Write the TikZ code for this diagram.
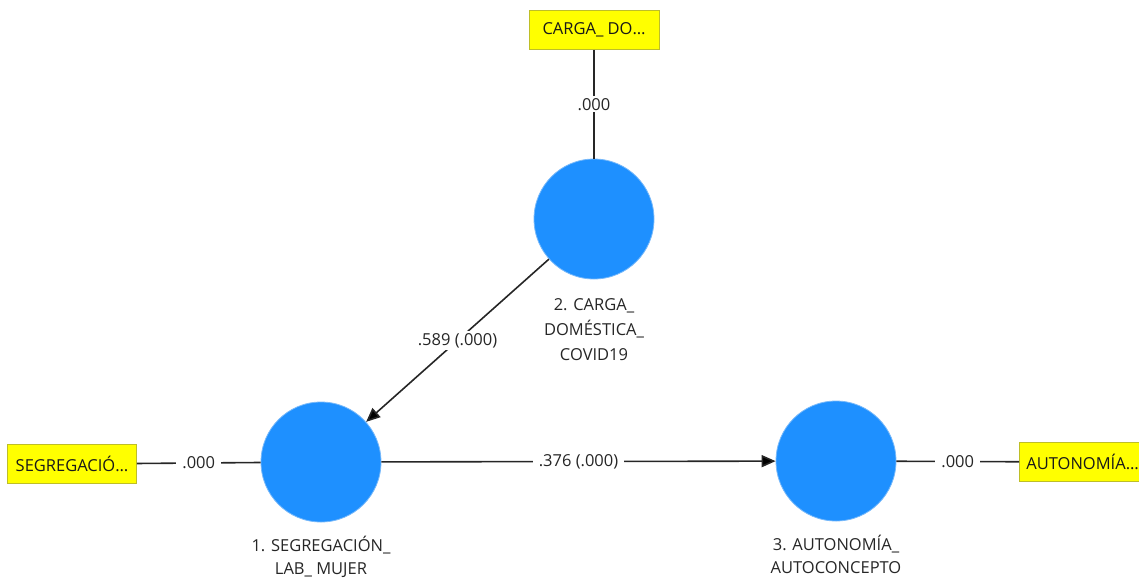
\documentclass[tikz,border=0pt]{standalone}
\usepackage{fontspec}
\setmainfont{Open Sans}
\usetikzlibrary{positioning,arrows.meta}
\definecolor{lvblue}{RGB}{30,144,255}
\definecolor{lvedge}{RGB}{120,185,250}
\definecolor{indyellow}{RGB}{255,255,0}
\definecolor{indedge}{RGB}{190,190,40}

\begin{document}
\begin{tikzpicture}[x=1pt,y=-1pt,
    font=\fontsize{16.5}{25}\selectfont,
    latent/.style={circle,fill=lvblue,draw=lvedge,line width=0.8pt,minimum size=120pt,inner sep=0pt},
    indicator/.style={rectangle,fill=indyellow,draw=indedge,line width=0.8pt,minimum height=39pt,inner xsep=7pt,text=black!90},
    caption/.style={align=center,inner sep=1pt,text=black!85},
    weight/.style={fill=white,inner xsep=6pt,inner ysep=2pt,text=black!85},
    link/.style={line width=1.6pt,draw=black!85}]
                            \useasboundingbox (0,0) rectangle (1139,582);

                            \node[indicator,minimum width=130pt] (ind2) at (594,30)  {CARGA\_ DO…};
                            \node[latent]   (lv2) at (594,219) {};
                            \node[latent]   (lv1) at (321,462) {};
                            \node[latent]   (lv3) at (836,461) {};
                            \node[indicator,minimum width=129pt] (ind1) at (72,464) {SEGREGACIÓ…};
                            \node[indicator,anchor=west] (ind3) at (1019,462) {AUTONOMÍA…};

                            \node[caption] (cap2) [below=18pt of lv2] {2. CARGA\_\\DOMÉSTICA\_\\COVID19};
                            \node[caption,font=\fontsize{16.5}{23}\selectfont] (cap1) [below=13pt of lv1] {1. SEGREGACIÓN\_\\LAB\_ MUJER};
                            \node[caption,font=\fontsize{16.5}{23}\selectfont] (cap3) [below=13pt of lv3] {3. AUTONOMÍA\_\\AUTOCONCEPTO};

                            \path[link]
                                (ind2)  edge node [weight] {.000} (lv2)
                                (ind1)  edge node [weight] {.000} (lv1)
                                (lv3)   edge node [weight] {.000} (ind3);
                            \path[link,-{Triangle[length=14pt,width=12pt]}]
                                (lv2)   edge node [weight] {.589 (.000)} (lv1)
                                (lv1)   edge node [weight] {.376 (.000)} (lv3);
                        \end{tikzpicture}
\end{document}
